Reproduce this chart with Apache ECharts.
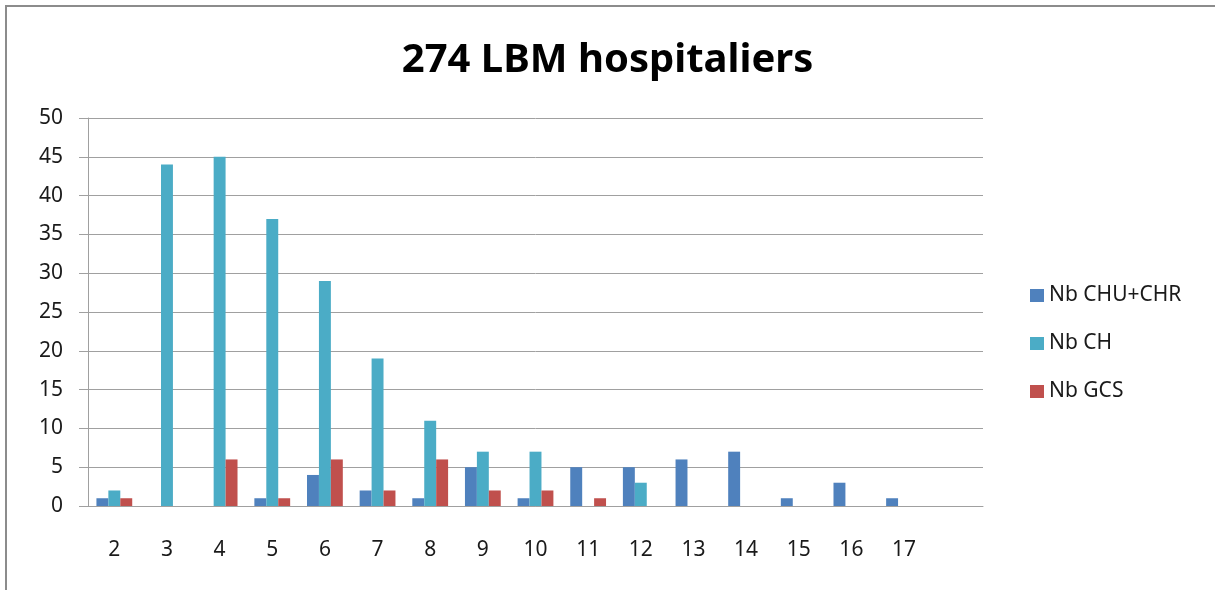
<!DOCTYPE html>
<html>
<head>
<meta charset="utf-8">
<script src="https://cdn.jsdelivr.net/npm/echarts@6/dist/echarts.min.js"></script>
<style>
  html, body { margin: 0; padding: 0; background: #fff; }
  #chart { width: 1215px; height: 590px; }
</style>
</head>
<body>
<div id="chart"></div>
<script>
// number of tests per LBM (last slot left empty, as in the original sheet)
const categories = ['2', '3', '4', '5', '6', '7', '8', '9', '10', '11', '12', '13', '14', '15', '16', '17', ''];
const nbChuChr = [1, 0, 0, 1, 4, 2, 1, 5, 1, 5, 5, 6, 7, 1, 3, 1, 0];
const nbCh     = [2, 44, 45, 37, 29, 19, 11, 7, 7, 0, 3, 0, 0, 0, 0, 0, 0];
const nbGcs    = [1, 0, 6, 1, 6, 2, 6, 2, 2, 1, 0, 0, 0, 0, 0, 0, 0];
const seriesNames = ['Nb CHU+CHR', 'Nb CH', 'Nb GCS'];
const colors = ['#4f81bd', '#4bacc6', '#c0504d'];

const font = 'Noto Sans';
const axisGray = '#a0a0a0';

const chart = echarts.init(document.getElementById('chart'));

const option = {
  backgroundColor: '#fff',
  animation: false,
  color: colors,
  title: {
    text: '274 LBM hospitaliers',
    left: 'center',
    top: 36,
    textStyle: { fontFamily: font, fontSize: 40, fontWeight: 'bold', color: '#000' }
  },
  legend: {
    orient: 'vertical',
    left: 1025,
    top: 280,
    itemGap: 27,
    itemWidth: 14,
    itemHeight: 13,
    icon: 'rect',
    textStyle: { fontFamily: font, fontSize: 21, color: '#1a1a1a' },
    data: seriesNames
  },
  grid: { left: 88, right: 232, top: 118, bottom: 84, containLabel: false },
  xAxis: {
    type: 'category',
    data: categories,
    axisLine: { lineStyle: { color: axisGray, width: 1 } },
    axisTick: { length: 10, lineStyle: { color: axisGray } },
    axisLabel: { margin: 34, fontFamily: font, fontSize: 21, color: '#1a1a1a' }
  },
  yAxis: {
    type: 'value',
    min: 0,
    max: 50,
    interval: 5,
    axisLine: { show: true, lineStyle: { color: axisGray, width: 1 } },
    axisTick: { show: true, length: 9, lineStyle: { color: axisGray } },
    splitLine: { lineStyle: { color: axisGray, width: 1 } },
    axisLabel: { margin: 25, fontFamily: font, fontSize: 21, color: '#1a1a1a' }
  },
  graphic: [{
    type: 'rect',
    shape: { x: 6, y: 6, width: 1400, height: 800 },
    style: { fill: 'none', stroke: '#8c8c8c', lineWidth: 2 },
    silent: true
  }],
  series: [
    { name: seriesNames[0], type: 'bar', data: nbChuChr, barGap: '0%', barCategoryGap: '32%' },
    { name: seriesNames[1], type: 'bar', data: nbCh, barGap: '0%', barCategoryGap: '32%' },
    { name: seriesNames[2], type: 'bar', data: nbGcs, barGap: '0%', barCategoryGap: '32%' }
  ]
};

chart.setOption(option);
</script>
</body>
</html>
